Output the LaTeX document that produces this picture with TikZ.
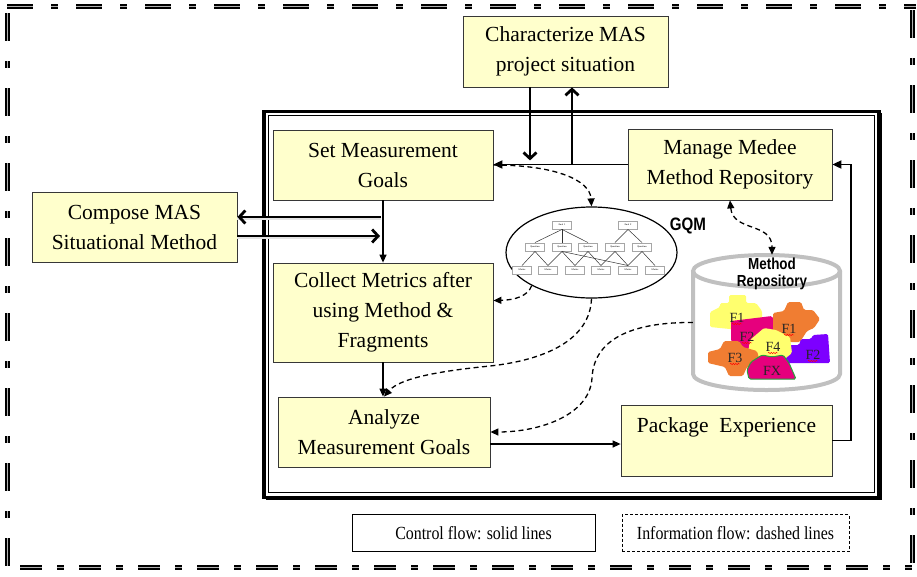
\documentclass[tikz,border=0pt]{standalone}
\usepackage{fontspec}
\setmainfont{Liberation Serif}
\newfontfamily\legendfont[FakeStretch=0.86]{Liberation Serif}
\newfontfamily\labelsans[FakeStretch=0.84]{Liberation Sans}
\usetikzlibrary{arrows.meta,shapes.geometric,decorations.pathmorphing}
\definecolor{boxfill}{RGB}{255,255,204}
\definecolor{boxline}{RGB}{55,55,55}
\definecolor{repogray}{RGB}{192,192,192}
\definecolor{pzyellow}{RGB}{255,255,110}
\definecolor{pzmagenta}{RGB}{230,0,125}
\definecolor{pzorange}{RGB}{240,125,50}
\definecolor{pzviolet}{RGB}{125,0,255}
\definecolor{pzgreen}{RGB}{40,160,60}

\begin{document}
\begin{tikzpicture}[x=1pt,y=-1pt,
  stepbox/.style={draw=boxline,line width=0.8pt,fill=boxfill,align=center,inner sep=0pt,
    font=\fontsize{21.5}{30}\selectfont},
  legendbox/.style={draw=black,line width=1pt,inner sep=0pt,
    font=\legendfont\fontsize{18.5}{20}\selectfont},
  border/.style={line width=5pt,black},
  bordercore/.style={line width=0.6pt,gray!60},
  hpat/.style={dash pattern=on 26pt off 18pt on 7pt off 18pt},
  vpat/.style={dash pattern=on 28pt off 20pt on 7pt off 20pt},
  bpat/.style={dash pattern=on 22pt off 15pt on 7pt off 15pt},
  bigarrow/.style={line width=2.8pt,-{Straight Barb[length=6pt,width=13pt]}},
  flowarrow/.style={line width=1.3pt,-{Triangle[length=8pt,width=7pt]}},
  mainarrow/.style={line width=1.9pt,-{Triangle[length=9pt,width=8pt]}},
  info/.style={line width=1.3pt,dash pattern=on 5pt off 3.5pt},
  shadowline/.style={line width=2.4pt,gray!22},
  gqmbox/.style={draw=gray!70,fill=white,line width=0.4pt,inner sep=0pt,
    minimum width=19pt,minimum height=8.5pt,font=\sffamily\fontsize{2.4}{3}\selectfont},
  gqmedge/.style={line width=0.5pt,black!80},
  piece/.style={line width=0.5pt,rounded corners=1.5pt},
  piecelabel/.style={inner sep=0pt,font=\fontsize{14}{14}\selectfont,text=black!85},
  squiggle/.style={red,line width=0.45pt,decorate,
    decoration={snake,amplitude=0.7pt,segment length=2.5pt}},
  >={Triangle[length=8pt,width=7pt]}
]
\useasboundingbox (0,0) rectangle (917,576);

% outer dash-dot frame (heavy dashes with a faint grey core)
\foreach \st in {border,bordercore}{
  \draw[\st,hpat] (7,6) -- (916,6);
  \draw[\st,vpat] (7,13) -- (7,572);
  \draw[\st,vpat] (912,10) -- (912,572);
  \draw[\st,bpat] (20,567) -- (912,567);
}

% inner double frame
\draw[line width=3.5pt] (264,111.5) rectangle (879,497.5);
\draw[line width=1.6pt] (881,113) -- (881,499.5) -- (266,499.5);
\draw[line width=1.1pt] (268.5,115.5) rectangle (874.5,492.5);

% process steps
\node[stepbox,minimum width=205pt,minimum height=71pt] (char) at (565.5,51.5)
  {Characterize MAS\\project situation};
\node[stepbox,minimum width=220pt,minimum height=70pt] (set) at (383,165)
  {Set Measurement\\Goals};
\node[stepbox,minimum width=204pt,minimum height=71pt] (manage) at (730,164.5)
  {Manage Medee\\Method Repository};
\node[stepbox,minimum width=205pt,minimum height=70pt] (compose) at (134.5,227)
  {Compose MAS\\Situational Method};
\node[stepbox,minimum width=220pt,minimum height=99pt] (collect) at (383,312.5)
  {Collect Metrics after\\using Method \&\\Fragments};
\node[stepbox,minimum width=212pt,minimum height=70pt] (analyze) at (384,432)
  {Analyze\\Measurement Goals};
\node[stepbox,minimum width=211pt,minimum height=71pt] (package) at (726.5,440.5)
  {Package~~Experience\\~};

% GQM tree
\node[draw,ellipse,line width=1.2pt,minimum width=171pt,minimum height=91pt,inner sep=0pt]
  (gqm) at (591.5,252.5) {};
\node[gqmbox] (g1) at (562,225) {Goal 1};
\node[gqmbox] (g2) at (628,225) {Goal 2};
\node[gqmbox] (q1) at (535,247) {Question};
\node[gqmbox] (q2) at (562,247) {Question};
\node[gqmbox] (q3) at (588,247) {Question};
\node[gqmbox] (q4) at (615,247) {Question};
\node[gqmbox] (q5) at (642,247) {Question};
\node[gqmbox] (m1) at (522,270) {Metric};
\node[gqmbox] (m2) at (548,270) {Metric};
\node[gqmbox] (m3) at (575,270) {Metric};
\node[gqmbox] (m4) at (601,270) {Metric};
\node[gqmbox] (m5) at (628,270) {Metric};
\node[gqmbox] (m6) at (655,270) {Metric};
\foreach \a/\b in {g1/q1,g1/q2,g1/q3,g2/q4,g2/q5,q1/m1,q1/m2,q2/m2,q2/m3,q2/m5,
                   q3/m3,q3/m4,q4/m4,q4/m5,q5/m5,q5/m6}
  \draw[gqmedge] (\a.south) -- (\b.north);
\node[font=\labelsans\bfseries\fontsize{18}{18}\selectfont,inner sep=0pt] (gqmlabel) at (688,226) {GQM};

% method repository cylinder
\node[minimum width=147pt,minimum height=135pt,inner sep=0pt] (repo) at (766.5,322.5) {};
\draw[line width=4pt,repogray,fill=white] (693,271) -- (693,374)
  arc[start angle=180,end angle=0,x radius=73.5,y radius=16] -- (840,271);
\draw[line width=4pt,repogray] (766.5,271) ellipse[x radius=73.5,y radius=16];
\node[font=\labelsans\bfseries\fontsize{16}{17}\selectfont,align=center,inner sep=0pt]
  (repotitle) at (772,274) {Method\\Repository};

% method fragments
\fill[piece,pzyellow] (710,312) -- (720,307) -- (720,303) -- (729,303) -- (729,295) -- (746,295)
  -- (746,303) -- (756,303) -- (762,311) -- (762,322) -- (740,330) -- (710,327) -- cycle;
\fill[piece,pzmagenta] (731,321) -- (772,316) -- (776,326) -- (772,348) -- (740,349) -- (731,341) -- cycle;
\fill[piece,pzorange] (773,313) -- (784,311) -- (788,302) -- (801,302) -- (804,310) -- (813,310)
  -- (820,319) -- (814,328) -- (807,331) -- (800,342) -- (781,342) -- (773,333) -- cycle;
\fill[piece,pzviolet] (782,345) -- (799,345) -- (801,339) -- (811,339) -- (813,335) -- (828,334)
  -- (830,363) -- (780,363) -- cycle;
\fill[piece,pzyellow] (750,340) -- (764,328) -- (776,330) -- (790,337) -- (792,353) -- (781,362)
  -- (759,362) -- (748,353) -- cycle;
\fill[piece,pzorange] (708,352) -- (720,349) -- (724,341) -- (739,341) -- (743,347) -- (757,351)
  -- (760,362) -- (747,367) -- (743,376) -- (729,376) -- (725,367) -- (708,363) -- cycle;
\filldraw[piece,pzmagenta,draw=pzgreen,line width=1pt] (751,362) -- (762,355) -- (772,357) -- (783,355)
  -- (789,363) -- (796,379) -- (749,379) -- (747,370) -- cycle;
\node[piecelabel] (fa) at (737,318) {F1};
\node[piecelabel] (fb) at (747,337) {F2};
\node[piecelabel] (fc) at (789,329) {F1};
\node[piecelabel] (fd) at (773,347) {F4};
\node[piecelabel] (fe) at (735,358) {F3};
\node[piecelabel] (ff) at (813,355) {F2};
\node[piecelabel] (fg) at (772,371) {FX};
\foreach \n in {fa,fb,fc,fd,fe,ff}
  \draw[squiggle] ([xshift=-5pt,yshift=-6pt]\n.center) -- ++(10,0);

% control flow
\draw[bigarrow] ([xshift=-35.5pt]char.south) -- ++(0,73);
\coordinate (upfoot) at (572,164.5);
\draw[bigarrow] (upfoot) -- (upfoot |- char.south);
\draw[mainarrow] (manage.west) -- (manage.west -| set.east);
\draw[flowarrow] (set.south) -- (collect.north);
\draw[flowarrow] (collect.south) -- (collect.south |- analyze.north);
\draw[flowarrow] ([yshift=-12pt]analyze.east) -- ([yshift=-12pt]analyze.east -| package.west);
\draw[mainarrow] (package.east) -- ++(19,0) |- (manage.east);

\coordinate (lefttail) at (381,217);
\coordinate (righthead) at (380,236);
\draw[shadowline] ([yshift=-1.5pt]lefttail) -- ([yshift=-1.5pt]lefttail -| compose.east);
\draw[shadowline] ([yshift=-1.5pt]compose.east |- righthead) -- ([yshift=-1.5pt]righthead);
\draw[bigarrow] (lefttail) -- (lefttail -| compose.east);
\draw[bigarrow] (compose.east |- righthead) -- (righthead);

% information flow
\draw[info,->] (set.east) .. controls (555,165) and (590,180) .. (gqm.north);
\draw[info,->] (gqm.209) .. controls (528,296) and (515,300) .. ([yshift=12pt]collect.east);
\draw[info,->] (gqm.south) .. controls (590,340) and (545,360) .. (490,366)
  .. controls (440,371) and (400,378) .. (analyze.north);
\draw[info,->] (repo.west) .. controls (640,322) and (594,335) .. (592,378)
  .. controls (590,415) and (540,432) .. (analyze.east);
\draw[info,<->] (manage.south) .. controls (733,232) and (772,222) .. ([xshift=5.5pt]repo.north);

% legend
\node[legendbox,minimum width=243pt,minimum height=37pt] (legctl) at (473.5,533) {Control flow: solid lines};
\node[legendbox,dash pattern=on 3pt off 2pt,minimum width=227pt,minimum height=37pt] (leginfo) at (735.5,533)
  {Information flow: dashed lines};
\end{tikzpicture}
\end{document}
